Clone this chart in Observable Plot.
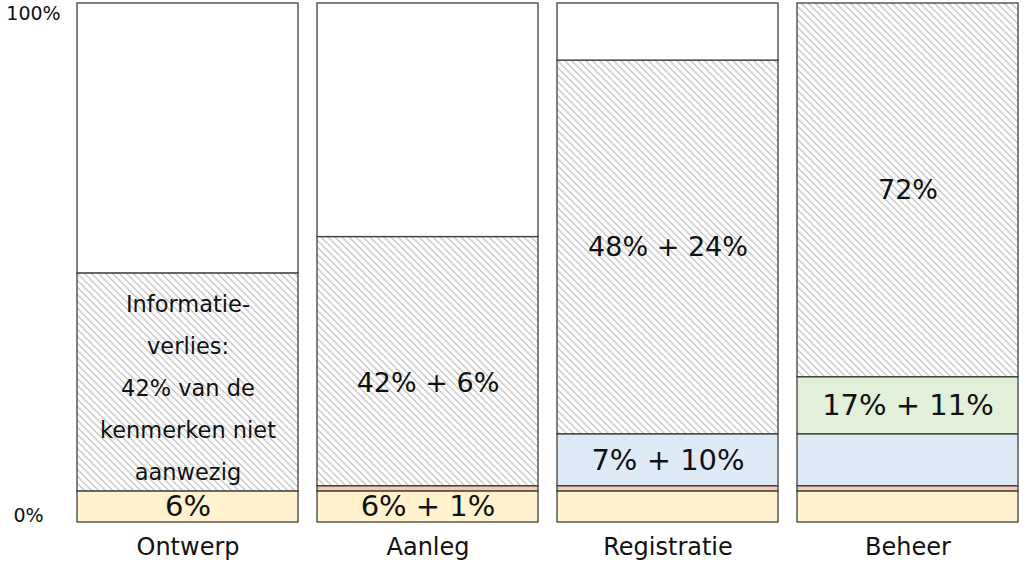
<!DOCTYPE html>
<html><head><meta charset="utf-8">
<script src="https://cdn.jsdelivr.net/npm/d3@7"></script>
<script src="https://cdn.jsdelivr.net/npm/@observablehq/plot@0.6"></script>
<style>body{margin:0;background:#fff;overflow:hidden}</style>
</head><body><div id="chart"></div>
<script>
// ---- data ----
const categories = ["Ontwerp", "Aanleg", "Registratie", "Beheer"];
const layerKeys = ["ontwerp", "aanleg", "registratie", "beheer", "verlies", "rest"];
const ontwerpValues     = [6, 6, 6, 6];
const aanlegValues      = [0, 1, 1, 1];
const registratieValues = [0, 0, 10, 10];
const beheerValues      = [0, 0, 0, 11];
const verliesValues     = [42, 48, 72, 72];
const restValues        = [52, 45, 11, 0];
const ontwerpLabels     = ["6%", "6% + 1%", "", ""];
const aanlegLabels      = ["", "", "", ""];
const registratieLabels = ["", "", "7% + 10%", ""];
const beheerLabels      = ["", "", "", "17% + 11%"];
const verliesLabels     = ["Informatie-\nverlies:\n42% van de\nkenmerken niet\naanwezig", "42% + 6%", "48% + 24%", "72%"];
const restLabels        = ["", "", "", ""];
const yTickLabels       = ["0%", "100%"];

// ---- styles ----
const layerFills = ["#FFF2CC", "#F8CBAD", "#DEEBF7", "#E2F0D9", "url(#hatch)", "#FFFFFF"];

// ---- table ----
const valueSets = [ontwerpValues, aanlegValues, registratieValues, beheerValues, verliesValues, restValues];
const labelSets = [ontwerpLabels, aanlegLabels, registratieLabels, beheerLabels, verliesLabels, restLabels];
const table = [];
layerKeys.forEach((key, li) => {
  categories.forEach((cat, ci) => {
    const v = valueSets[li][ci];
    if (v > 0) table.push({category: cat, layer: key, value: v, label: labelSets[li][ci]});
  });
});

const font = "'DejaVu Sans', sans-serif";
const txt = (pred) => (d) => (pred(d) && d.label) ? d.label : null;

const svg = Plot.plot({
  width: 1025, height: 562,
  marginLeft: 77, marginRight: 7, marginTop: 3, marginBottom: 40,
  x: {domain: categories, paddingInner: 0.08, paddingOuter: 0, label: null},
  y: {domain: [0, 100], axis: null},
  color: {domain: layerKeys, range: layerFills},
  style: {fontFamily: font, color: "#111", background: "#fff"},
  marks: [
    Plot.barY(table, Plot.stackY({x: "category", y: "value", fill: "layer", stroke: "#404040", strokeWidth: 1.3})),
    Plot.text(table, Plot.stackY({x: "category", y: "value",
      text: txt(d => d.layer !== "verlies"), fontSize: 29, fill: "#111"})),
    Plot.text(table, Plot.stackY({x: "category", y: "value",
      text: txt(d => d.layer === "verlies" && d.category !== "Ontwerp" && d.category !== "Aanleg"), fontSize: 27, fill: "#111"})),
    Plot.text(table, Plot.stackY({x: "category", y: "value",
      text: txt(d => d.layer === "verlies" && d.category === "Aanleg"), fontSize: 27, fill: "#111", dy: 22})),
    Plot.text(table, Plot.stackY({x: "category", y: "value",
      text: txt(d => d.layer === "verlies" && d.category === "Ontwerp"), fontSize: 22.5, lineHeight: 1.87, fill: "#111"})),
    Plot.axisX({tickSize: 0, tickPadding: 15, fontSize: 24, label: null, fill: "#111"}),
    Plot.text([yTickLabels[1]], {frameAnchor: "top-left", text: d => d, dx: -44, dy: 10, textAnchor: "middle", lineAnchor: "middle", fontSize: 19, fill: "#111"}),
    Plot.text([yTickLabels[0]], {frameAnchor: "bottom-left", text: d => d, dx: -49, dy: -7, textAnchor: "middle", lineAnchor: "middle", fontSize: 19, fill: "#111"})
  ]
});

const ns = "http://www.w3.org/2000/svg";
const defs = document.createElementNS(ns, "defs");
defs.innerHTML = '<pattern id="hatch" patternUnits="userSpaceOnUse" width="7" height="7">' +
  '<rect width="7" height="7" fill="#fff"/>' +
  '<path d="M0,0L7,7M-1,6L1,8M6,-1L8,1" stroke="#c6c6c6" stroke-width="1.3"/></pattern>';
svg.insertBefore(defs, svg.firstChild);
document.getElementById("chart").appendChild(svg);
</script>
</body></html>
